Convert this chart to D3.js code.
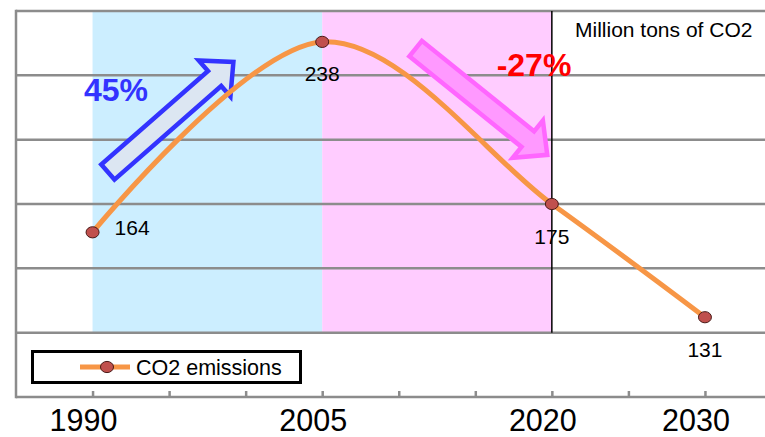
<!DOCTYPE html>
<html>
<head>
<meta charset="utf-8">
<script src="https://cdn.jsdelivr.net/npm/d3@7/dist/d3.min.js"></script>
<style>
  html, body { margin: 0; padding: 0; background: #fff; }
  svg { display: block; font-family: "Liberation Sans", Arial, sans-serif; }
</style>
</head>
<body>
<svg id="chart" width="765" height="437"></svg>
<script>
// Emission series (million tons of CO2)
const years = [1990, 2005, 2020, 2030];
const emissions = [164, 238, 175, 131];
const seriesName = "CO2 emissions";
const unitLabel = "Million tons of CO2";

// Axis ticks
const tickYears = [1990, 1995, 2000, 2005, 2010, 2015, 2020, 2025, 2030];
const labelYears = [1990, 2005, 2020, 2030];
const gridValues = [125, 150, 175, 200, 225, 250];

// Shaded periods
const periodStarts = [1990, 2005];
const periodEnds = [2005, 2020];
const periodColors = ["#cceeff", "#ffccff"];

// Trend arrows: [year, value] of tail and tip
const arrowTails = [[1991.0, 187.4], [2011.1, 235.4]];
const arrowTips = [[1999.2, 230.2], [2019.7, 194.1]];
const arrowFills = ["#dce6f2", "#ff99ff"];
const arrowStrokes = ["#3333ff", "#ff66ff"];
const changeTexts = ["45%", "-27%"];
const changeColors = ["#3333ff", "#ff0000"];

const svg = d3.select("#chart");
const W = 765;

const x = d3.scaleLinear().domain([1985, 2035]).range([16, 781.5]);
const y = d3.scaleLinear().domain([100, 250]).range([397, 11]);
const yTop = y(250), yBand = y(125);

// Shaded periods
svg.append("g").selectAll("rect")
  .data(periodStarts)
  .join("rect")
  .attr("x", (d) => x(d))
  .attr("y", yTop)
  .attr("width", (d, i) => x(periodEnds[i]) - x(d))
  .attr("height", yBand - yTop)
  .attr("fill", (d, i) => periodColors[i]);

// Horizontal gridlines
svg.append("g").selectAll("line")
  .data(gridValues)
  .join("line")
  .attr("x1", x(1985)).attr("x2", W)
  .attr("y1", (d) => y(d)).attr("y2", (d) => y(d))
  .attr("stroke", "#8c8c8c").attr("stroke-width", 2.5);

// Divider at 2020
svg.append("line")
  .attr("x1", x(2020)).attr("x2", x(2020))
  .attr("y1", yTop).attr("y2", yBand)
  .attr("stroke", "#000").attr("stroke-width", 1.5);

// Left axis line
svg.append("line")
  .attr("x1", x(1985)).attr("x2", x(1985))
  .attr("y1", yTop - 1.25).attr("y2", y(100) + 1.25)
  .attr("stroke", "#8c8c8c").attr("stroke-width", 2.5);

// Bottom axis with inward ticks
const xAxis = d3.axisBottom(x)
  .tickValues(tickYears)
  .tickSizeInner(-6)
  .tickSizeOuter(0)
  .tickFormat("");
const gx = svg.append("g").attr("transform", `translate(0,${y(100)})`).call(xAxis);
gx.select(".domain").attr("d", `M${x(1985)},0H${W}`).attr("stroke", "#8c8c8c").attr("stroke-width", 2.5);
gx.selectAll(".tick line").attr("stroke", "#8c8c8c").attr("stroke-width", 2.5);

// Year labels
svg.append("g").selectAll("text")
  .data(labelYears)
  .join("text")
  .attr("x", (d) => x(d) - 9)
  .attr("y", 430.5)
  .attr("text-anchor", "middle")
  .attr("font-size", 30.5)
  .attr("fill", "#000")
  .text((d) => d);

// Trend arrows
function arrowPath(t, p) {
  const x0 = x(t[0]), y0 = y(t[1]), x1 = x(p[0]), y1 = y(p[1]);
  const dx = x1 - x0, dy = y1 - y0, len = Math.hypot(dx, dy);
  const ux = dx / len, uy = dy / len, nx = -uy, ny = ux;
  const sw = 10, hw = 24, hl = 25;
  const bx = x1 - ux * hl, by = y1 - uy * hl;
  const pts = [
    [x0 + nx * sw, y0 + ny * sw],
    [bx + nx * sw, by + ny * sw],
    [bx + nx * hw, by + ny * hw],
    [x1, y1],
    [bx - nx * hw, by - ny * hw],
    [bx - nx * sw, by - ny * sw],
    [x0 - nx * sw, y0 - ny * sw]
  ];
  return "M" + pts.map((q) => q.join(",")).join("L") + "Z";
}
svg.append("g").selectAll("path")
  .data(arrowTails)
  .join("path")
  .attr("d", (d, i) => arrowPath(d, arrowTips[i]))
  .attr("fill", (d, i) => arrowFills[i])
  .attr("stroke", (d, i) => arrowStrokes[i])
  .attr("stroke-width", 4.5)
  .attr("stroke-linejoin", "miter");

// Change labels
svg.append("text")
  .attr("x", 116).attr("y", 101)
  .attr("text-anchor", "middle")
  .attr("font-size", 32).attr("font-weight", "bold")
  .attr("fill", changeColors[0])
  .text(changeTexts[0]);
svg.append("text")
  .attr("x", 534).attr("y", 76)
  .attr("text-anchor", "middle")
  .attr("font-size", 32).attr("font-weight", "bold")
  .attr("fill", changeColors[1])
  .text(changeTexts[1]);

// Unit label
svg.append("text")
  .attr("x", 575).attr("y", 36.5)
  .attr("font-size", 21)
  .attr("fill", "#000")
  .text(unitLabel);

// Emission line (smoothed)
const pts = years.map((yr, i) => [x(yr), y(emissions[i])]);
svg.append("path")
  .attr("d", d3.line().curve(d3.curveCardinal.tension(0))(pts))
  .attr("fill", "none")
  .attr("stroke", "#f79646")
  .attr("stroke-width", 5);

svg.append("g").selectAll("ellipse")
  .data(pts)
  .join("ellipse")
  .attr("cx", (d) => d[0]).attr("cy", (d) => d[1])
  .attr("rx", 6.5).attr("ry", 5.6)
  .attr("fill", "#c0504d")
  .attr("stroke", "#4a1a18").attr("stroke-width", 1);

// Value labels
svg.append("g").selectAll("text")
  .data(emissions)
  .join("text")
  .attr("x", (d, i) => i === 0 ? x(years[i]) + 22 : x(years[i]))
  .attr("y", (d, i) => i === 0 ? y(d) + 3 : y(d) + 39.5)
  .attr("text-anchor", (d, i) => i === 0 ? "start" : "middle")
  .attr("font-size", 21)
  .attr("fill", "#000")
  .text((d) => d);

// Legend
const lg = svg.append("g");
lg.append("rect")
  .attr("x", 32.5).attr("y", 351.5)
  .attr("width", 268).attr("height", 31)
  .attr("fill", "#fff").attr("stroke", "#000").attr("stroke-width", 3);
lg.append("line")
  .attr("x1", 80).attr("x2", 130).attr("y1", 367).attr("y2", 367)
  .attr("stroke", "#f79646").attr("stroke-width", 5);
lg.append("ellipse")
  .attr("cx", 107).attr("cy", 367).attr("rx", 6.5).attr("ry", 5.6)
  .attr("fill", "#c0504d").attr("stroke", "#4a1a18").attr("stroke-width", 1);
lg.append("text")
  .attr("x", 136).attr("y", 375)
  .attr("font-size", 21.5)
  .attr("fill", "#000")
  .text(seriesName);
</script>
</body>
</html>
